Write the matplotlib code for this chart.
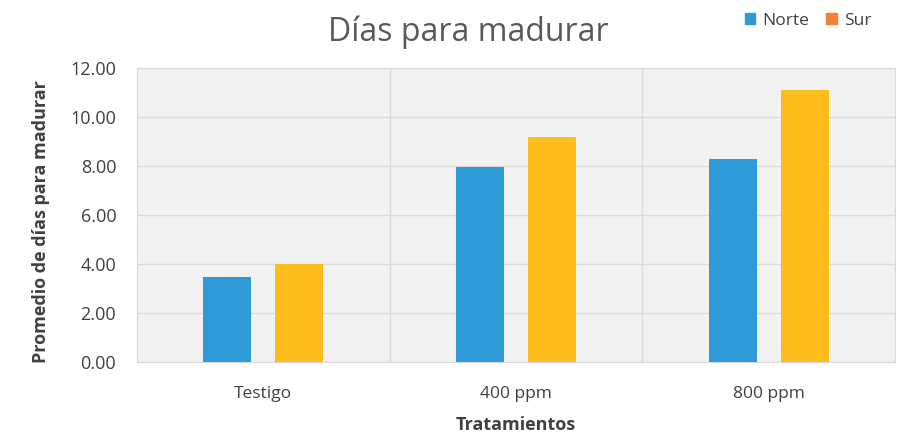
import matplotlib.pyplot as plt
import matplotlib.patches as mpatches
import numpy as np

plt.rcParams['font.family'] = ['Open Sans', 'DejaVu Sans']

# datos: promedio de días para madurar por tratamiento y zona
tratamientos = ['Testigo', '400 ppm', '800 ppm']
norte = [3.45, 7.95, 8.30]
sur = [4.02, 9.20, 11.10]

color_norte = '#2E9BD8'
color_sur = '#FDBD1C'

fig = plt.figure(figsize=(9.09, 4.36), dpi=100)
ax = fig.add_axes([137/909, 1 - 362/436, (895 - 137)/909, (362 - 68)/436])
ax.set_facecolor('#f2f2f2')

x = np.arange(len(tratamientos))
ancho = 0.19
ax.bar(x - 0.142, norte, ancho, color=color_norte, zorder=3)
ax.bar(x + 0.142, sur, ancho, color=color_sur, zorder=3)

ax.set_xlim(-0.5, 2.5)
ax.set_ylim(0, 12)
ax.set_yticks(np.arange(0, 12.1, 2))
ax.set_yticklabels(['%.2f' % v for v in np.arange(0, 12.1, 2)])
ax.set_xticks(x)
ax.set_xticklabels(tratamientos)
ax.tick_params(length=0, colors='#404040')
ax.tick_params(axis='x', labelsize=12.5, pad=17)
ax.tick_params(axis='y', labelsize=13, pad=15)

# rejilla horizontal y separadores entre categorías
ax.grid(axis='y', color='#d9d9d9', lw=1, zorder=0)
for b in [0.5, 1.5]:
    ax.axvline(b, color='#d9d9d9', lw=1, zorder=0)
for s in ax.spines.values():
    s.set_color('#d9d9d9')

ax.set_xlabel('Tratamientos', fontsize=13, fontweight='bold', color='#404040', labelpad=10)
ax.set_ylabel('Promedio de días para madurar', fontsize=13, fontweight='bold', color='#404040')
ax.yaxis.set_label_coords(-0.115, 0.476)

fig.text(468/909, 1 - 32/436, 'Días para madurar', fontsize=23, color='#595959', ha='center', va='center')

handles = [mpatches.Patch(color=color_norte, label='Norte'),
           mpatches.Patch(color='#F58232', label='Sur')]
fig.legend(handles=handles, loc='center', bbox_to_anchor=(808/909, 1 - 21/436), ncol=2, frameon=False,
           fontsize=12.5, handlelength=0.6, handleheight=0.6, handletextpad=0.4, columnspacing=1.0,
           labelcolor='#404040')

fig.savefig('out.png', dpi=100)
